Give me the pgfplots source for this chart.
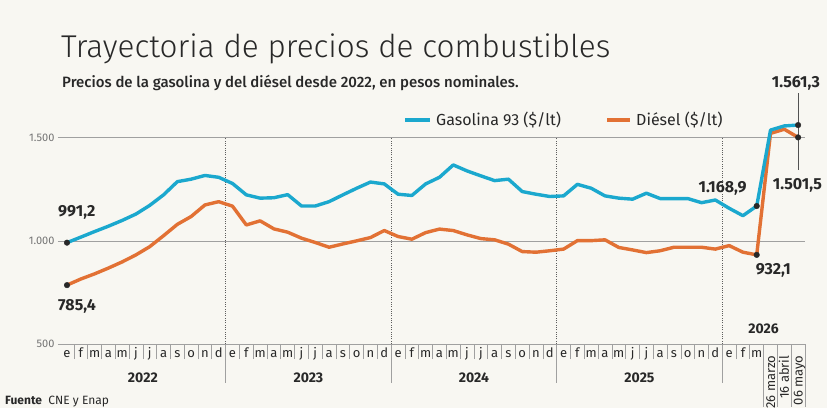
\documentclass[border=0pt]{standalone}
\usepackage{fontspec}
\usepackage{pgfplots}
\usepackage{pgfplotstable}
\pgfplotsset{compat=1.18}
\setmainfont{Fira Sans}
\newfontfamily\lightfont{Fira Sans Light}
\newfontfamily\medfont{Fira Sans Medium}

\definecolor{bg}{RGB}{248,247,242}
\definecolor{gas}{RGB}{27,168,206}
\definecolor{die}{RGB}{226,113,52}
\definecolor{ink}{RGB}{40,40,40}
\definecolor{gridc}{RGB}{160,160,160}

% monthly prices, $/lt; 51-53 = 26 marzo, 16 abril, 06 mayo 2026
\pgfplotstableread{
i  gas     die
0  991.2   785.4
1  1018    815
2  1045    840
3  1071    868
4  1099    898
5  1130    932
6  1172    972
7  1223    1025
8  1287    1080
9  1299    1118
10 1317    1174
11 1308    1190
12 1278    1168
13 1223    1077
14 1207    1097
15 1209    1058
16 1224    1042
17 1169    1013
18 1169    992
19 1190    969
20 1223    985
21 1255    1000
22 1285    1016
23 1276    1050
24 1226    1021
25 1220    1008
26 1276    1040
27 1308    1057
28 1368    1050
29 1339    1029
30 1315    1011
31 1292    1005
32 1299    984
33 1239    948
34 1226    945
35 1215    952
36 1218    960
37 1274    1001
38 1255    1001
39 1218    1005
40 1207    968
41 1202    956
42 1231    943
43 1205    952
44 1205    969
45 1205    969
46 1185    969
47 1198    960
48 1158    977
49 1122    945
50 1168.9  932.1
51 1537    1521
52 1557    1541
53 1561.3  1501.5
}\prices

\begin{document}
\begin{tikzpicture}
\path[use as bounding box, fill=bg] (0,0) rectangle (827pt,408pt);
\begin{scope}
\clip (0,0) rectangle (827pt,408pt);

\node[anchor=base west, inner sep=0, text=ink, font=\lightfont\fontsize{31.5}{31.5}\selectfont]
  at (61pt,350pt) {Trayectoria de precios de combustibles};
\node[anchor=base west, inner sep=0, text=ink, font=\medfont\fontsize{15}{15}\selectfont]
  at (62pt,320pt) {Precios de la gasolina y del diésel desde 2022, en pesos nominales.};

% legend
\draw[gas, line width=3.5pt] (405pt,288pt) -- (430pt,288pt);
\node[anchor=west, inner sep=0, text=ink, font=\fontsize{16}{16}\selectfont]
  at (436pt,288pt) {Gasolina 93 (\$/lt)};
\draw[die, line width=3.5pt] (607pt,288pt) -- (630pt,288pt);
\node[anchor=west, inner sep=0, text=ink, font=\fontsize{16}{16}\selectfont]
  at (636pt,288pt) {Diésel (\$/lt)};

\node[anchor=base west, inner sep=0, text=ink, font=\fontsize{12}{12}\selectfont]
  at (5pt,4pt) {\textbf{Fuente}\ \ CNE y Enap};

\begin{axis}[
  at={(58pt,64pt)}, anchor=south west, scale only axis,
  width=747pt, height=206.3pt,
  xmin=-0.652, xmax=53.5, ymin=500, ymax=1500,
  clip=false,
  axis line style={draw=none},
  ytick={500,1000,1500}, yticklabels={500,1.000,1.500},
  ymajorgrids, grid style={gridc, line width=0.7pt},
  yticklabel style={font=\fontsize{11}{11}\selectfont, text=black!55},
  xtick={0,...,50},
  xticklabels={e,f,m,a,m,j,j,a,s,o,n,d,e,f,m,a,m,j,j,a,s,o,n,d,e,f,m,a,m,j,j,a,s,o,n,d,e,f,m,a,m,j,j,a,s,o,n,d,e,f,m},
  xticklabel style={font=\fontsize{13}{13}\selectfont, text=ink, text height=9pt, text depth=2pt, yshift=-1pt},
  extra x ticks={51,52,53},
  extra x tick labels={26 marzo,16 abril,06 mayo},
  extra x tick style={grid=none, tick label style={rotate=90, anchor=east, yshift=0pt, xshift=-8pt, text height=8pt, text depth=0pt, font=\fontsize{11}{11}\selectfont}},
  minor xtick={0.5,1.5,...,53.5},
  major tick length=0pt, minor tick length=15pt,
  tick align=outside, xtick pos=bottom, ytick pos=left,
  minor tick style={gridc, line width=0.7pt},
]
% year dividers
\pgfplotsinvokeforeach{11.5,23.5,35.5,47.5}{
  \draw[ink!75, line width=0.6pt, dash pattern=on 1pt off 1.3pt] (axis cs:#1,500) -- (axis cs:#1,1500);
  \draw[gridc, line width=0.7pt] (axis cs:#1,500) -- ++(0pt,-39pt);
}
\pgfplotsinvokeforeach{50.5,51.5,52.5,53.5}{
  \draw[gridc, line width=0.7pt] (axis cs:#1,500) -- ++(0pt,-63pt);
}
\node[font=\bfseries\fontsize{14}{14}\selectfont, text=ink, yshift=-34pt] at (axis cs:5.5,500) {2022};
\node[font=\bfseries\fontsize{14}{14}\selectfont, text=ink, yshift=-34pt] at (axis cs:17.5,500) {2023};
\node[font=\bfseries\fontsize{14}{14}\selectfont, text=ink, yshift=-34pt] at (axis cs:29.5,500) {2024};
\node[font=\bfseries\fontsize{14}{14}\selectfont, text=ink, yshift=-34pt] at (axis cs:41.5,500) {2025};
\node[font=\bfseries\fontsize{14}{14}\selectfont, text=ink] at (axis cs:50.5,574) {2026};

\addplot[die, line width=3.4pt, line join=round] table[x=i, y=die] {\prices};
\addplot[gas, line width=3.4pt, line join=round] table[x=i, y=gas] {\prices};

\draw[ink!80, line width=0.8pt] (axis cs:53,1716) -- (axis cs:53,1344);
\addplot[only marks, mark=*, mark size=2.8pt, ink]
  coordinates {(0,991.2) (0,785.4) (50,1168.9) (50,932.1) (53,1561.3) (53,1501.5)};

\node[anchor=west, inner sep=0, text=ink, font=\bfseries\fontsize{16}{16}\selectfont] at (axis cs:-0.65,1140) {991,2};
\node[anchor=west, inner sep=0, text=ink, font=\bfseries\fontsize{16}{16}\selectfont] at (axis cs:-0.65,680) {785,4};
\node[anchor=east, inner sep=0, text=ink, font=\bfseries\fontsize{16}{16}\selectfont] at (axis cs:49.28,1252) {1.168,9};
\node[anchor=west, inner sep=0, text=ink, font=\bfseries\fontsize{16}{16}\selectfont] at (axis cs:49.93,855) {932,1};
\node[anchor=west, inner sep=0, text=ink, font=\bfseries\fontsize{16}{16}\selectfont] at (axis cs:51.09,1765) {1.561,3};
\node[anchor=west, inner sep=0, text=ink, font=\bfseries\fontsize{16}{16}\selectfont] at (axis cs:51.16,1271) {1.501,5};
\end{axis}
\end{scope}
\end{tikzpicture}
\end{document}
